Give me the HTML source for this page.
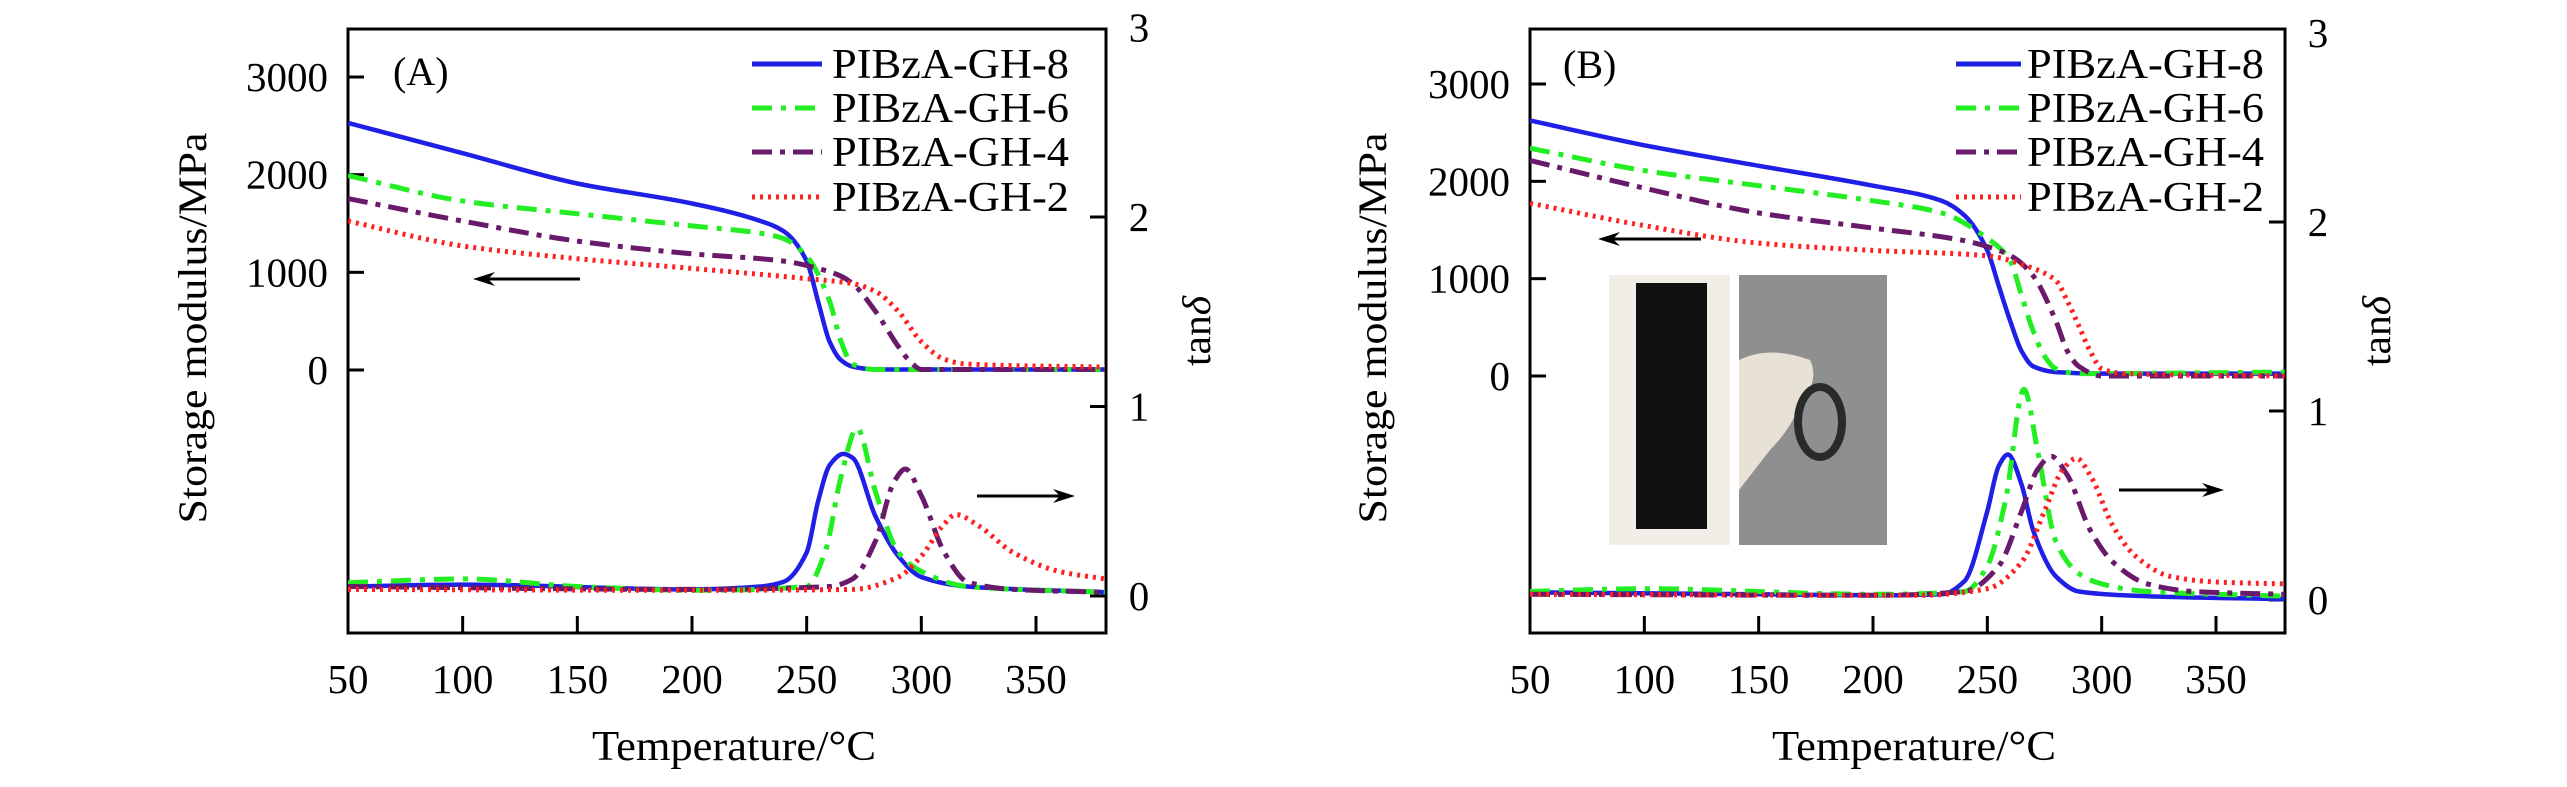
<!DOCTYPE html>
<html><head><meta charset="utf-8"><style>
html,body{margin:0;padding:0;background:#fff;}
svg{display:block;}
text{font-family:"Liberation Serif",serif;fill:#000;}
</style></head><body>
<svg id="chart" width="2567" height="787" viewBox="0 0 2567 787" xmlns="http://www.w3.org/2000/svg"></svg>
<script>
const xTicks=[50,100,150,200,250,300,350];
const modTicks=[0,1000,2000,3000];
const tanTicks=[0,1,2,3];
const seriesNames=["PIBzA-GH-8","PIBzA-GH-6","PIBzA-GH-4","PIBzA-GH-2"];
// Panel A storage modulus (T, MPa)
const aModT8=[50,100,150,200,230,240,250,255,260,265,270,280,380];
const aModV8=[2530,2220,1910,1705,1525,1420,1115,700,290,100,35,5,5];
const aModT6=[50,100,150,200,230,240,250,260,265,270,280,380];
const aModV6=[1990,1730,1600,1475,1400,1345,1165,705,290,60,5,5];
const aModT4=[50,100,150,200,240,255,265,270,280,290,295,300,380];
const aModV4=[1755,1525,1320,1190,1115,1040,960,885,600,240,90,5,5];
const aModT2=[50,100,150,200,250,270,280,290,300,310,320,380];
const aModV2=[1525,1270,1140,1040,935,885,805,600,290,110,60,30];
// Panel A tan delta
const aTanT8=[50,100,200,230,240,250,255,260,266,270,280,290,300,320,380];
const aTanV8=[0.05,0.06,0.035,0.05,0.075,0.23,0.5,0.69,0.75,0.73,0.42,0.21,0.1,0.05,0.02];
const aTanT6=[50,100,150,200,250,258,265,272,280,290,300,320,380];
const aTanV6=[0.07,0.09,0.05,0.03,0.05,0.23,0.63,0.885,0.55,0.23,0.13,0.05,0.02];
const aTanT4=[50,200,260,270,280,288,293,300,310,320,340,380];
const aTanV4=[0.05,0.035,0.05,0.09,0.29,0.6,0.67,0.53,0.23,0.075,0.035,0.02];
const aTanT2=[50,200,270,290,300,310,315,325,340,360,380];
const aTanV2=[0.035,0.03,0.035,0.1,0.21,0.38,0.43,0.37,0.23,0.13,0.09];
// Panel B storage modulus
const bModT8=[50,100,150,200,230,240,250,255,260,265,270,280,300,380];
const bModV8=[2625,2370,2160,1955,1800,1650,1290,925,565,255,100,40,25,25];
const bModT6=[50,100,150,200,230,250,260,265,270,275,280,290,380];
const bModV6=[2340,2110,1955,1800,1675,1415,1185,825,465,205,75,25,40];
const bModT4=[50,100,150,200,240,255,262,270,280,285,290,300,380];
const bModV4=[2215,1930,1675,1520,1390,1290,1210,1030,565,255,100,0,0];
const bModT2=[50,100,150,200,250,270,280,285,290,295,300,310,380];
const bModV2=[1775,1545,1365,1290,1235,1105,980,770,515,255,75,25,0];
// Panel B tan delta
const bTanT8=[50,150,200,230,240,250,255,259,265,270,280,290,320,380];
const bTanV8=[0.04,0.03,0.025,0.03,0.1,0.47,0.71,0.77,0.61,0.37,0.125,0.045,0.02,0.005];
const bTanT6=[50,100,200,240,250,258,266,272,280,290,300,320,380];
const bTanV6=[0.045,0.06,0.03,0.045,0.18,0.53,1.115,0.79,0.31,0.14,0.085,0.045,0.02];
const bTanT4=[50,200,240,255,265,272,278,285,295,305,320,340,380];
const bTanV4=[0.03,0.025,0.045,0.18,0.47,0.69,0.76,0.66,0.37,0.2,0.085,0.045,0.03];
const bTanT2=[50,220,250,265,275,283,289,295,305,315,330,350,380];
const bTanV2=[0.03,0.025,0.06,0.2,0.47,0.69,0.75,0.66,0.39,0.23,0.125,0.095,0.085];

const NS="http://www.w3.org/2000/svg";
const svg=document.getElementById('chart');
function mk(tag,attrs,parent){const e=document.createElementNS(NS,tag);for(const k in attrs)e.setAttribute(k,attrs[k]);(parent||svg).appendChild(e);return e;}
const styles=[
 {stroke:"#1f1fe6",dash:"none"},
 {stroke:"#22ee22",dash:"20 9 5 9"},
 {stroke:"#6a1a6a",dash:"20 8 5 8"},
 {stroke:"#ff2020",dash:"3 5"}
];
const TOP=29, BOT=633;

// monotone cubic (Fritsch-Carlson) path through data points in pixel space
function monoPath(px,py){
  const n=px.length, d=[], m=new Array(n);
  for(let i=0;i<n-1;i++) d.push((py[i+1]-py[i])/(px[i+1]-px[i]));
  m[0]=d[0]; m[n-1]=d[n-2];
  for(let i=1;i<n-1;i++){
    if(d[i-1]*d[i]<=0) m[i]=0;
    else { const w1=2*(px[i+1]-px[i])+(px[i]-px[i-1]), w2=(px[i+1]-px[i])+2*(px[i]-px[i-1]);
      m[i]=(w1+w2)/(w1/d[i-1]+w2/d[i]); }
  }
  let s='M'+px[0].toFixed(1)+' '+py[0].toFixed(1);
  for(let i=0;i<n-1;i++){
    const h=(px[i+1]-px[i])/3;
    s+=' C'+(px[i]+h).toFixed(1)+' '+(py[i]+m[i]*h).toFixed(1)+' '+(px[i+1]-h).toFixed(1)+' '+(py[i+1]-m[i+1]*h).toFixed(1)+' '+px[i+1].toFixed(1)+' '+py[i+1].toFixed(1);
  }
  return s;
}

function panel(P){
  const g=mk('g',{});
  
  
  const xS=t=>P.x0+(t-50)*(P.x350-P.x0)/300;
  const mS=v=>P.m0+(v)*(P.m3000-P.m0)/3000;
  const tS=v=>P.t0+(v)*(P.t2-P.t0)/2;
  const fr=mk('rect',{x:P.x0,y:TOP,width:P.right-P.x0,height:BOT-TOP,fill:"none",stroke:"#000","stroke-width":3},g);
  
  
  xTicks.forEach(t=>{
    const X=xS(t);
    const l=mk('line',{x1:X,y1:BOT,x2:X,y2:BOT-17,stroke:"#000","stroke-width":3},g);
    
    
    const tx=mk('text',{x:X,y:693,"text-anchor":"middle","font-size":41},g);
    tx.textContent=t;
    
    
  });
  modTicks.forEach(v=>{
    const Y=mS(v);
    const l=mk('line',{x1:P.x0,y1:Y,x2:P.x0+16,y2:Y,stroke:"#000","stroke-width":3},g);
    
    
    const tx=mk('text',{x:P.x0-20,y:Y+14,"text-anchor":"end","font-size":41},g);
    tx.textContent=v;
    
    
  });
  tanTicks.forEach(v=>{
    const Y=tS(v);
    if(v<3){
    const l=mk('line',{x1:P.right,y1:Y,x2:P.right-16,y2:Y,stroke:"#000","stroke-width":3},g);
    
    }
    const tx=mk('text',{x:P.right+33,y:Y+14,"text-anchor":"middle","font-size":41},g);
    tx.textContent=v;
    
    
  });
  const yt=mk('text',{x:0,y:0,transform:`translate(${P.ytX},328) rotate(-90)`,"text-anchor":"middle","font-size":40,textLength:391,lengthAdjust:"spacingAndGlyphs"},g);
  yt.textContent="Storage modulus/MPa";
  
  
  const rt=mk('text',{x:0,y:0,transform:`translate(${P.rtX},331) rotate(-90)`,"text-anchor":"middle","font-size":40,textLength:70,lengthAdjust:"spacingAndGlyphs"},g);
  rt.innerHTML='tan<tspan font-style="italic">δ</tspan>';
  
  
  const xt=mk('text',{x:P.xtX,y:760,"text-anchor":"middle","font-size":42,textLength:284,lengthAdjust:"spacingAndGlyphs"},g);
  xt.textContent="Temperature/°C";
  
  
  const pl=mk('text',{x:P.lblX,y:P.lblY,"font-size":40},g);
  pl.textContent=P.label;
  
  
  if(P.inset){
    const ig=mk('g',{},g);
    
    
    mk('rect',{x:1609,y:275,width:121,height:270,fill:"#f1eee8"},ig);
    mk('rect',{x:1636,y:283,width:71,height:246,fill:"#111"},ig);
    mk('rect',{x:1739,y:275,width:148,height:270,fill:"#8f8f8f"},ig);
    mk('path',{d:"M1739 360 Q1770 345 1810 360 Q1820 380 1800 405 Q1790 430 1770 450 L1739 490 Z",fill:"#e8e2d6"},ig);
    mk('ellipse',{cx:1820,cy:422,rx:22,ry:35,fill:"none",stroke:"#2a2a2a","stroke-width":8},ig);
  }
  const clip=mk('clipPath',{id:'clip'+P.label[1]},g);
  mk('rect',{x:P.x0,y:TOP,width:P.right-P.x0,height:BOT-TOP},clip);
  const sets=[[P.mod,mS],[P.tan,tS]];
  sets.forEach(([arr,sc],si)=>{
    arr.forEach((pair,i)=>{
      const [T,V]=pair;
      const d=monoPath(T.map(xS),V.map(sc));
      const p=mk('path',{d:d,fill:"none",stroke:styles[i].stroke,"stroke-width":i==0?4.5:5,"stroke-dasharray":styles[i].dash,"stroke-linejoin":"round","clip-path":`url(#clip${P.label[1]})`},g);
      
      
    });
  });
  seriesNames.forEach((n,i)=>{
    const Y=P.legY[i];
    const lg=mk('g',{},g);
    
    
    mk('line',{x1:P.legX1,y1:Y,x2:P.legX2,y2:Y,stroke:styles[i].stroke,"stroke-width":5,"stroke-dasharray":styles[i].dash},lg);
    const t=mk('text',{x:P.legT,y:Y+14,"font-size":42,textLength:237,lengthAdjust:"spacingAndGlyphs"},lg);
    t.textContent=n;
  });
  P.arrows.forEach(a=>{
    const ag=mk('g',{},g);
    
    
    const dir=Math.sign(a.x2-a.x1);
    mk('line',{x1:a.x1,y1:a.y,x2:a.x2-dir*10,y2:a.y,stroke:"#000","stroke-width":3},ag);
    mk('path',{d:`M${a.x2} ${a.y} L${a.x2-dir*22} ${a.y-7} L${a.x2-dir*15} ${a.y} L${a.x2-dir*22} ${a.y+7} Z`,fill:"#000"},ag);
  });
}
panel({name:'panel-a',label:'(A)',x0:348,x350:1036,right:1106,m0:370,m3000:77,t0:596,t2:217,
 ytX:206,rtX:1210,xtX:734,lblX:393,lblY:85,legX1:752,legX2:822,legT:832,legY:[64,108,152,197],
 mod:[[aModT8,aModV8],[aModT6,aModV6],[aModT4,aModV4],[aModT2,aModV2]],
 tan:[[aTanT8,aTanV8],[aTanT6,aTanV6],[aTanT4,aTanV4],[aTanT2,aTanV2]],
 arrows:[{name:'modulus-axis-arrow',x1:580,x2:473,y:279},{name:'tan-delta-axis-arrow',x1:977,x2:1075,y:496}]});
panel({name:'panel-b',label:'(B)',x0:1530,x350:2216,right:2285,m0:376,m3000:84,t0:600,t2:222,
 ytX:1386,rtX:2390,xtX:1914,lblX:1563,lblY:78,legX1:1956,legX2:2021,legT:2027,legY:[64,108,152,197],inset:true,
 mod:[[bModT8,bModV8],[bModT6,bModV6],[bModT4,bModV4],[bModT2,bModV2]],
 tan:[[bTanT8,bTanV8],[bTanT6,bTanV6],[bTanT4,bTanV4],[bTanT2,bTanV2]],
 arrows:[{name:'modulus-axis-arrow',x1:1701,x2:1598,y:239},{name:'tan-delta-axis-arrow',x1:2119,x2:2224,y:490}]});
</script>
</body></html>
